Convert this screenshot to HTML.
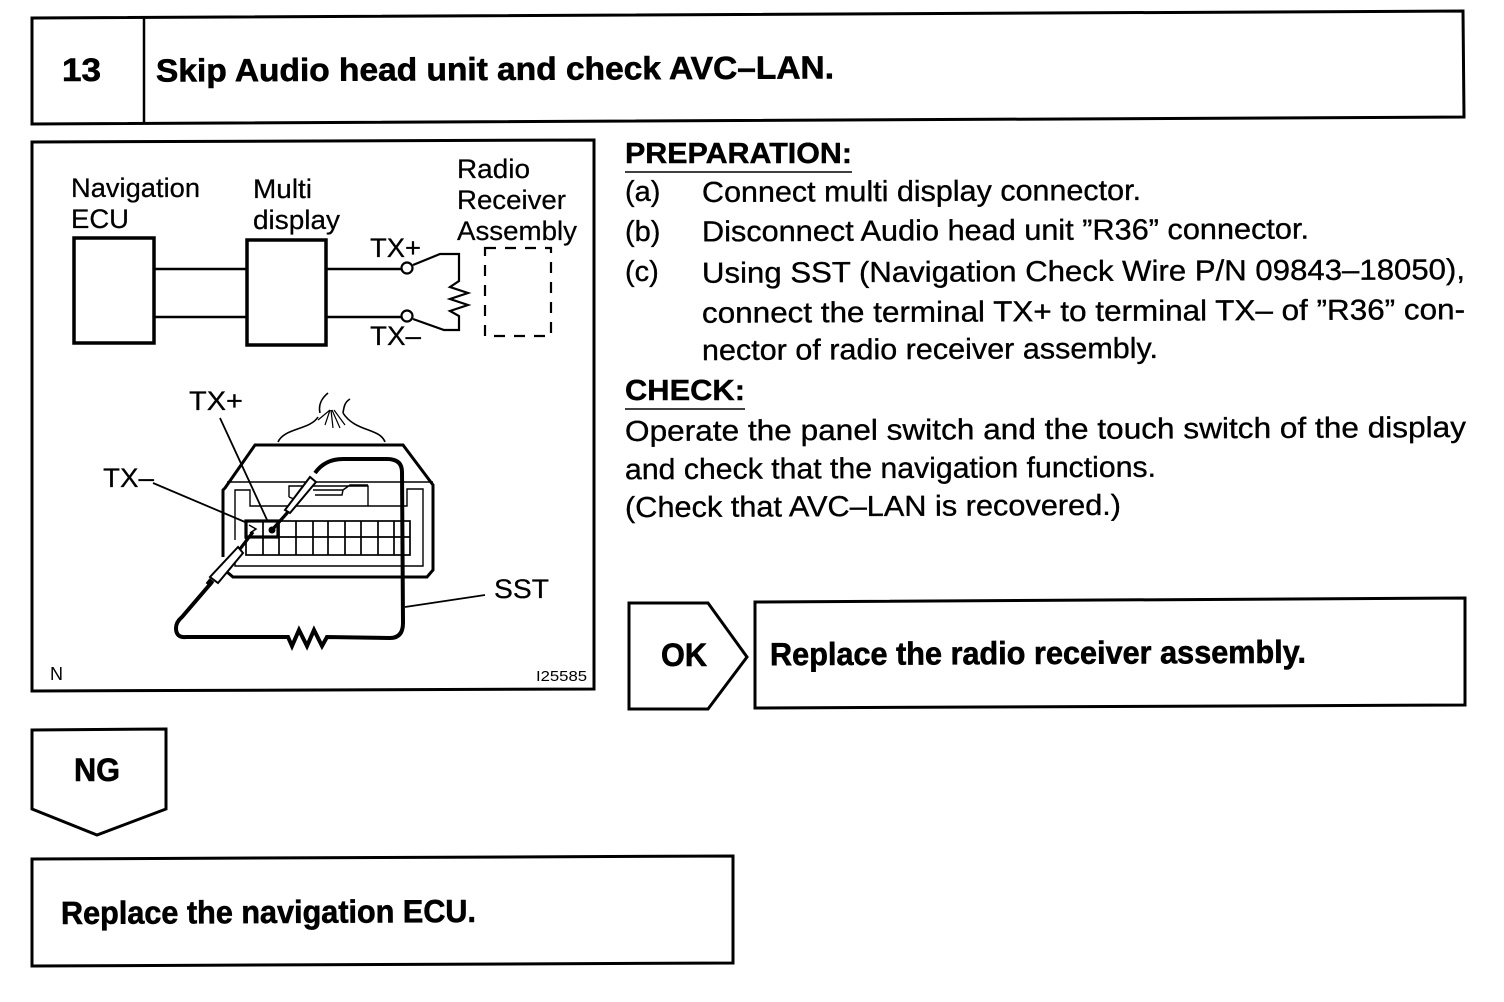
<!DOCTYPE html>
<html><head><meta charset="utf-8"><style>
html,body{margin:0;padding:0;background:#fff}
svg{display:block}
text{font-family:"Liberation Sans",sans-serif;fill:#000}
.b{font-weight:bold;font-size:32px;stroke:#000;stroke-width:.6px}
.t{font-size:29px;stroke:#000;stroke-width:.35px}
.d{font-size:27px;stroke:#000;stroke-width:.25px}
.h{font-weight:bold;font-size:29px;stroke:#000;stroke-width:.4px}
</style></head><body>
<svg width="1504" height="1002" viewBox="0 0 1504 1002" xmlns="http://www.w3.org/2000/svg">
<g fill="none" stroke="#000" stroke-width="3">
<path d="M32 18L1463 11L1464 117L32 124Z"/>
<line x1="144" y1="18" x2="144" y2="123" stroke-width="2.5"/>
<path d="M32 142L594 140V689L32 691Z"/>
<path d="M629 603H708L747 657L708 709H629Z"/>
<path d="M755 602L1465 598V705L755 708Z"/>
<path d="M32 730L166 729V809L97 835L32 809Z"/>
<path d="M32 859L733 856V963L32 966Z"/>
</g>
<text class="b" x="62" y="81" textLength="39" lengthAdjust="spacingAndGlyphs">13</text>
<text class="b" x="156" y="80" textLength="678" lengthAdjust="spacingAndGlyphs" transform="rotate(-.27 495 70)">Skip Audio head unit and check AVC–LAN.</text>
<text class="h" x="625" y="163" textLength="227" lengthAdjust="spacingAndGlyphs">PREPARATION:</text>
<line x1="625" y1="172" x2="852" y2="172" stroke="#000" stroke-width="1.5"/>
<text class="t" x="625" y="201">(a)</text><text class="t" x="702" y="201" textLength="439" lengthAdjust="spacingAndGlyphs" transform="rotate(-.27 920 192)">Connect multi display connector.</text>
<text class="t" x="625" y="241">(b)</text><text class="t" x="702" y="240" textLength="607" lengthAdjust="spacingAndGlyphs" transform="rotate(-.27 1005 231)">Disconnect Audio head unit ”R36” connector.</text>
<text class="t" x="625" y="281">(c)</text><text class="t" x="702" y="281" textLength="763" lengthAdjust="spacingAndGlyphs" transform="rotate(-.27 1083 271)">Using SST (Navigation Check Wire P/N 09843–18050),</text>
<text class="t" x="702" y="321" textLength="763" lengthAdjust="spacingAndGlyphs" transform="rotate(-.27 1083 311)">connect the terminal TX+ to terminal TX– of ”R36” con-</text>
<text class="t" x="702" y="359" textLength="456" lengthAdjust="spacingAndGlyphs" transform="rotate(-.27 930 350)">nector of radio receiver assembly.</text>
<text class="h" x="625" y="400" textLength="120" lengthAdjust="spacingAndGlyphs">CHECK:</text>
<line x1="625" y1="409" x2="745" y2="409" stroke="#000" stroke-width="1.5"/>
<text class="t" x="625" y="439" textLength="841" lengthAdjust="spacingAndGlyphs" transform="rotate(-.27 1045 429)">Operate the panel switch and the touch switch of the display</text>
<text class="t" x="625" y="478" textLength="531" lengthAdjust="spacingAndGlyphs" transform="rotate(-.27 890 468)">and check that the navigation functions.</text>
<text class="t" x="625" y="516" textLength="496" lengthAdjust="spacingAndGlyphs" transform="rotate(-.27 873 507)">(Check that AVC–LAN is recovered.)</text>
<text class="b" x="661" y="666" textLength="46" lengthAdjust="spacingAndGlyphs">OK</text>
<text class="b" x="770" y="664" textLength="536" lengthAdjust="spacingAndGlyphs" transform="rotate(-.27 1038 654)">Replace the radio receiver assembly.</text>
<text class="b" x="74" y="781" textLength="46" lengthAdjust="spacingAndGlyphs">NG</text>
<text class="b" x="61" y="923" textLength="415" lengthAdjust="spacingAndGlyphs" transform="rotate(-.27 268 913)">Replace the navigation ECU.</text>

<text class="d" x="71" y="197" textLength="129" lengthAdjust="spacingAndGlyphs">Navigation</text>
<text class="d" x="71" y="228" textLength="58" lengthAdjust="spacingAndGlyphs">ECU</text>
<text class="d" x="253" y="198" textLength="59" lengthAdjust="spacingAndGlyphs">Multi</text>
<text class="d" x="253" y="229" textLength="87" lengthAdjust="spacingAndGlyphs">display</text>
<text class="d" x="457" y="178" textLength="73" lengthAdjust="spacingAndGlyphs">Radio</text>
<text class="d" x="457" y="209" textLength="109" lengthAdjust="spacingAndGlyphs">Receiver</text>
<text class="d" x="457" y="240" textLength="120" lengthAdjust="spacingAndGlyphs">Assembly</text>
<text class="d" x="370" y="257" textLength="51" lengthAdjust="spacingAndGlyphs">TX+</text>
<text class="d" x="370" y="345" textLength="51" lengthAdjust="spacingAndGlyphs">TX–</text>
<text class="d" x="189" y="410" textLength="54" lengthAdjust="spacingAndGlyphs">TX+</text>
<text class="d" x="103" y="487" textLength="51" lengthAdjust="spacingAndGlyphs">TX–</text>
<text class="d" x="494" y="598" textLength="55" lengthAdjust="spacingAndGlyphs">SST</text>
<text x="50" y="680" font-size="18">N</text>
<text x="536" y="681" font-size="15" textLength="51" lengthAdjust="spacingAndGlyphs">I25585</text>

<g fill="none" stroke="#000">
<rect x="74" y="238" width="80" height="105" stroke-width="3.5"/>
<rect x="247" y="240" width="79" height="105" stroke-width="3.5"/>
<path d="M155 269H247M155 317H247M327 269H401M327 317H401" stroke-width="2.5"/>
<circle cx="407" cy="268" r="5.5" stroke-width="2.2"/>
<circle cx="407" cy="316" r="5.5" stroke-width="2.2"/>
<path d="M413 265L440 254H459V281L450 287L468 293L450 299L468 305L450 311L459 316V330H444L413 319" stroke-width="2.2"/>
<rect x="485" y="248" width="66" height="88" stroke-width="2.2" stroke-dasharray="11 9"/>

<path d="M220 418L268 522M153 483L245 522M405 607L485 595" stroke-width="1.8"/>
<path d="M278 442C284 428 310 430 318 417M385 442C380 428 355 432 343 413M320 413C318 404 322 398 328 393M343 413C344 406 345 402 350 399" stroke-width="1.6"/>
<path d="M330 410L318 420M330 410L325 425M331 410L333 428M332 410L340 428M334 410L345 425" stroke-width="1.2"/>
<path d="M223 557V490L225 488L255 445H403L433 485V570L427 577H233L227 572" stroke-width="3"/>
<path d="M227 482H433M235 540V490H250V506H407V489H423V566H235V552" stroke-width="1.4"/>
<path d="M289 497V486H368V506M289 497L294 499M313 490H343L350 485H368M315 495H342L343 490" stroke-width="1.4"/>
<g stroke-width="1.7"><rect x="246" y="521" width="164" height="34"/><path d="M246 537H410M263 521V555M279 521V555M296 521V555M313 521V555M328 521V555M345 521V555M361 521V555M378 521V555M394 521V555"/></g>
<rect x="246" y="521" width="32" height="16" stroke-width="3.2"/>
<path d="M315 473Q325 459 343 459H387Q402 459 402 472L403 623Q403 638 390 638L327 637L322 646L314 630L307 646L299 630L292 646L288 637H186Q176 638 176 628Q176 622 182 617L212 582" stroke-width="4"/>
<path d="M285 510L310 477L316 482L290 513ZM238 547L210 577L218 583L243 553Z" stroke-width="2" fill="#fff"/>
<path d="M288 512L272 530M253 532L240 549" stroke-width="3.2"/>
<path d="M208 585L212 580" stroke-width="6"/>
<circle cx="272" cy="530" r="3" fill="#000"/>
<path d="M249 525L256 529L250 533" stroke-width="1.5"/>
</g>
</svg>
</body></html>
